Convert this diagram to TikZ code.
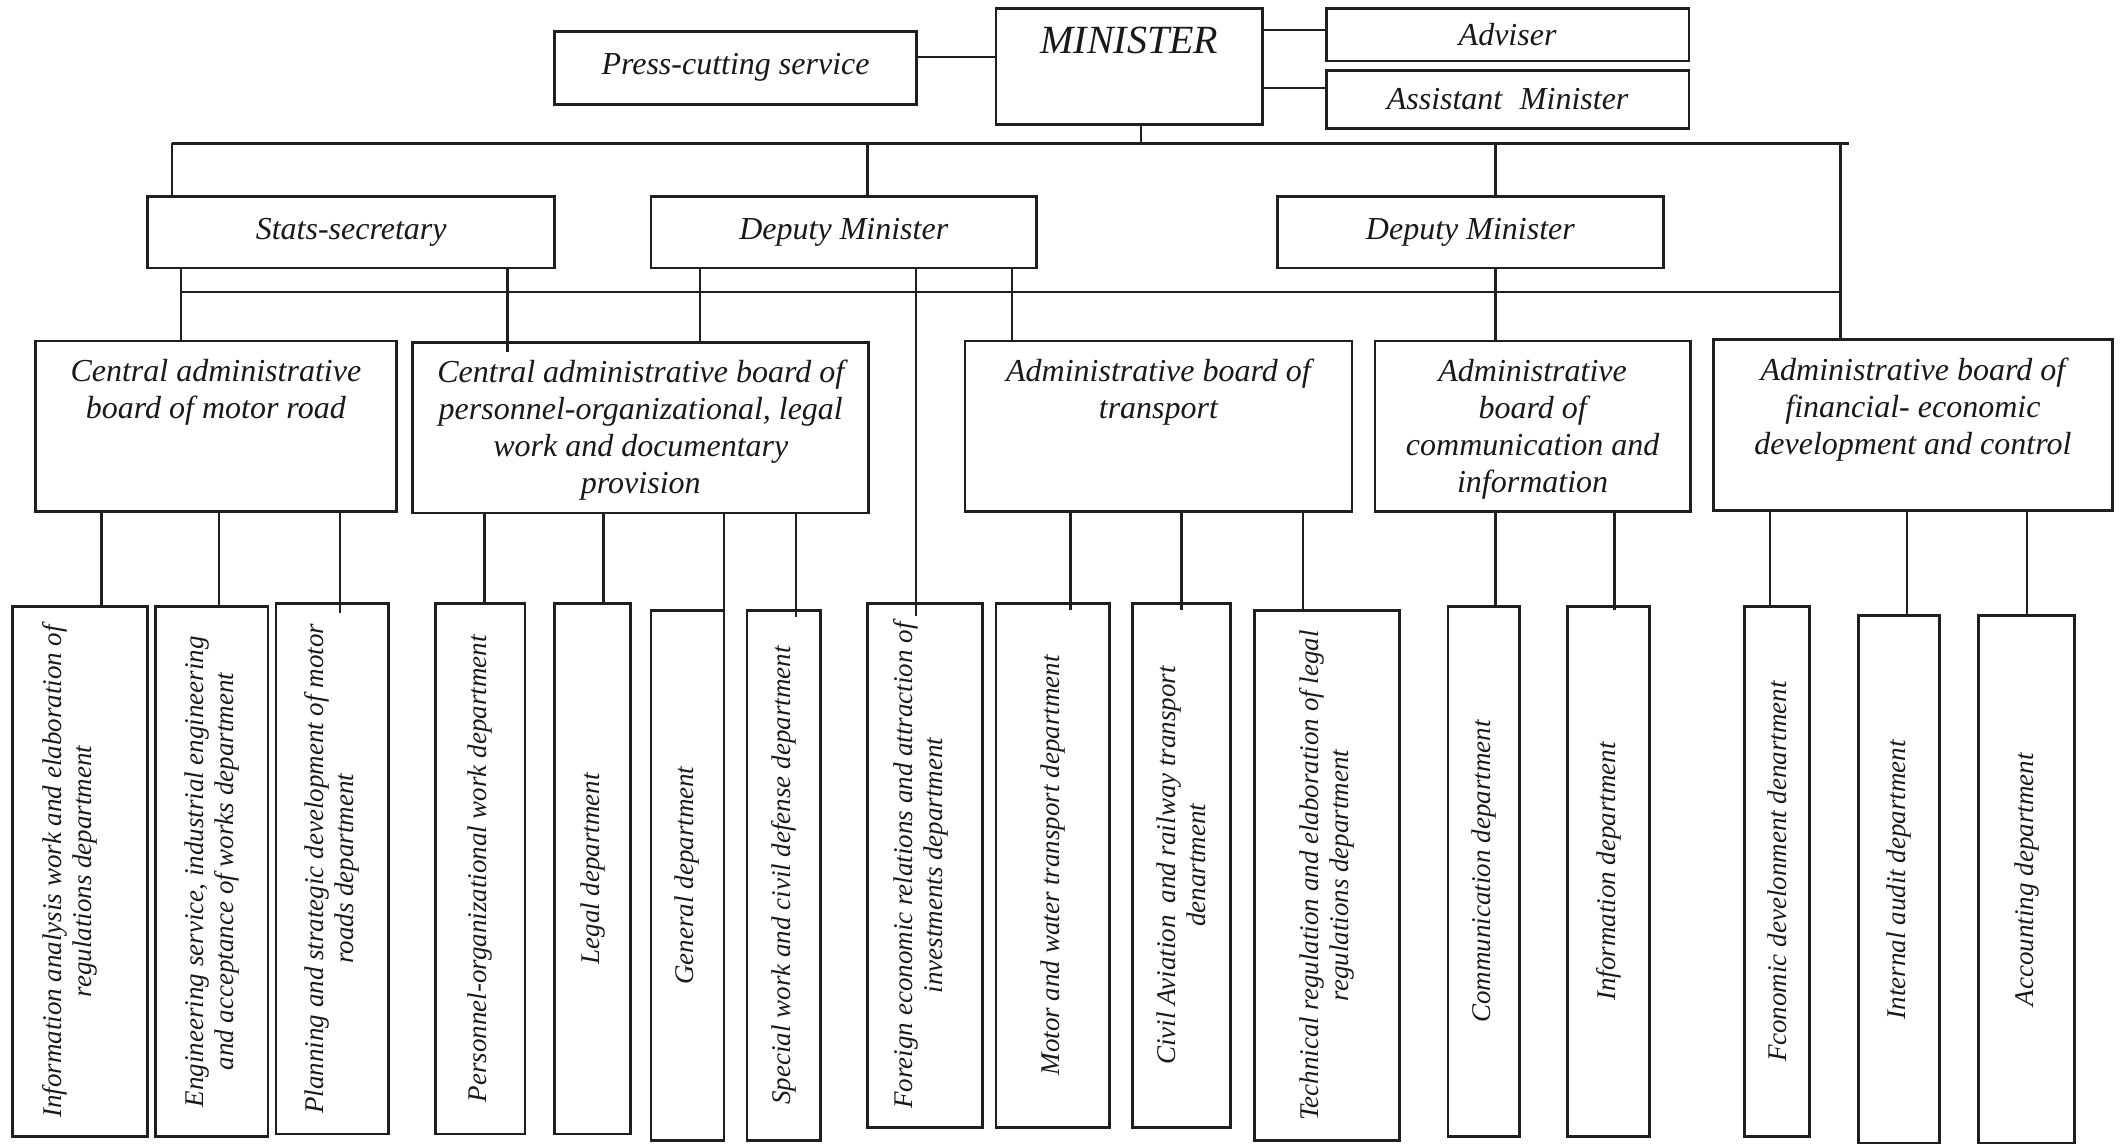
\documentclass[tikz,border=0pt]{standalone}
\usepackage{fontspec}
\setmainfont{Liberation Serif}
\begin{document}
\begin{tikzpicture}[x=1.3533pt, y=-1.3533pt,
  ink/.style={draw=black!88, line width=2.8pt},
  wire/.style={draw=black!88, line width=2.3pt},
  box/.style={ink, rectangle, inner sep=0pt, fill=white},
  geom/.style args={#1/#2/#3/#4}{box,
    minimum width={(#3-#1)*1.3533pt}, minimum height={(#4-#2)*1.3533pt},
    at={({(#1+#3)/2},{(#2+#4)/2})}},
  htext/.style={font=\fontsize{32}{37}\selectfont\rmfamily\itshape, align=center, text=black!90, inner sep=0pt},
  mtext/.style={font=\fontsize{40}{44}\selectfont\rmfamily\itshape, text=black!90, inner sep=0pt},
  vtext/.style={font=\fontsize{27}{30}\selectfont\rmfamily\itshape, align=center, rotate=90, text=black!90, inner sep=0pt},
]
% canvas
\fill[white] (0,0) rectangle (1568,845);
\useasboundingbox (0,0) rectangle (1568,845);

% helpers: a box whose text is centred, a board whose text hangs from the top,
% and a department whose text runs upwards
\newcommand\cbox[3]{\node[geom=#2, htext] (#1) {#3};}
\newcommand\board[3]{\node[geom=#2] (#1) {};
  \node[htext, anchor=north] (#1-t) at ([yshift=-19pt]#1.north) {#3};}
\newcommand\dept[4][0pt]{\node[geom=#3] (#2) {};
  \node[vtext] (#2-t) at ([xshift=#1]#2.center) {#4};}

% ---- top level ----
\cbox{press}{410/23/677/77}{Press-cutting service}
\node[geom=736/6/933/92] (min) {};
\node[mtext, anchor=north] (min-t) at ([yshift=-20pt]min.north) {MINISTER};
\cbox{adv}{980/6/1248/45}{Adviser}
\cbox{asst}{980/52/1248/95}{Assistant\hspace{0.55em}Minister}

% ---- deputies ----
\cbox{stats}{109/145/410/198}{Stats-secretary}
\cbox{dep1}{481/145/766/198}{Deputy Minister}
\cbox{dep2}{944/145/1229/198}{Deputy Minister}

% ---- boards ----
\board{road}{26/252/293/378}{Central administrative\\board of motor road}
\board{pers}{305/253/642/379}{Central administrative board of\\personnel-organizational, legal\\work and documentary\\provision}
\board{trans}{713/252/999/378}{Administrative board of\\transport}
\board{comm}{1016/252/1249/378}{Administrative\\board of\\communication and\\information}
\board{fin}{1266/251/1561/377}{Administrative board of\\financial- economic\\development and control}

% ---- departments ----
\dept[-10pt]{d1}{9/448/109/840}{Information analysis work and elaboration of\\regulations department}
\dept{d2}{115/448/198/840}{Engineering service, industrial engineering\\and acceptance of works department}
\dept{d3}{204/446/287/838}{Planning and strategic development of motor\\roads department}
\dept{d4}{322/446/388/838}{Personnel-organizational work department}
\dept{d5}{410/446/466/838}{Legal department}
\dept{d6}{481/451/535/843}{General department}
\dept{d7}{552/451/606/843}{Special work and civil defense department}
\dept[-4pt]{d8}{641/446/726/833}{Foreign economic relations and attraction of\\investments department}
\dept{d9}{736/446/820/833}{Motor and water transport department}
\dept{d10}{837/446/909/833}{Civil Aviation\hspace{0.45em}and railway transport\\denartment}
\dept{d11}{927/451/1034/843}{Technical regulation and elaboration of legal\\regulations department}
\dept{d12}{1070/448/1123/840}{Communication department}
\dept{d13}{1158/448/1219/840}{Information department}
\dept{d14}{1289/448/1337/840}{Fconomic develonment denartment}
\dept{d15}{1373/455/1433/845}{Internal audit department}
\dept{d16}{1462/455/1533/845}{Accounting department}

% ---- buses ----
\coordinate (busA-l) at (127,106);
\coordinate (busA-r) at (1366,106);
\coordinate (busB-l) at (134,216);
\coordinate (busB-r) at (1360,216);

% minister and its staff
\draw[wire] (press.east |- 0,42) -- (min.west |- 0,42);
\draw[wire] (min.east |- 0,22) -- (adv.west |- 0,22);
\draw[wire] (min.east |- 0,65) -- (asst.west |- 0,65);
\draw[wire] (min.south -| 843,0) -- (busA-l -| 843,0);

% upper bus to deputies
\draw[wire] (busA-l) -- (busA-r);
\draw[wire] (busA-l) -- (stats.north -| busA-l);
\draw[wire] (busA-l -| 641,0) -- (dep1.north -| 641,0);
\draw[wire] (busA-l -| 1105,0) -- (dep2.north -| 1105,0);
\draw[wire] (busA-r -| 1360,0) -- (fin.north -| 1360,0);

% lower bus and deputies to boards
\draw[wire] (busB-l) -- (busB-r);
\draw[wire] (stats.south -| 134,0) -- (road.north -| 134,0);
\draw[wire] (stats.south -| 375,0) -- (pers.north -| 375,0) -- ++(0,8);
\draw[wire] (dep1.south -| 517,0) -- (pers.north -| 517,0);
\draw[wire] (dep1.south -| 677,0) -- (d8.north -| 677,0) -- ++(0,10);
\draw[wire] (dep1.south -| 748,0) -- (trans.north -| 748,0);
\draw[wire] (dep2.south -| 1105,0) -- (comm.north -| 1105,0);

% boards to departments
\draw[wire] (road.south -| 75,0) -- (d1.north -| 75,0);
\draw[wire] (road.south -| 162,0) -- (d2.north -| 162,0);
\draw[wire] (road.south -| 251,0) -- (d3.north -| 251,0) -- ++(0,8);
\draw[wire] (pers.south -| 358,0) -- (d4.north -| 358,0);
\draw[wire] (pers.south -| 446,0) -- (d5.north -| 446,0);
\draw[wire] (pers.south -| 535,0) -- (d6.north -| 535,0);
\draw[wire] (pers.south -| 588,0) -- (d7.north -| 588,0) -- ++(0,6);
\draw[wire] (trans.south -| 791,0) -- (d9.north -| 791,0) -- ++(0,6);
\draw[wire] (trans.south -| 873,0) -- (d10.north -| 873,0) -- ++(0,6);
\draw[wire] (trans.south -| 963,0) -- (d11.north -| 963,0);
\draw[wire] (comm.south -| 1105,0) -- (d12.north -| 1105,0);
\draw[wire] (comm.south -| 1193,0) -- (d13.north -| 1193,0) -- ++(0,4);
\draw[wire] (fin.south -| 1308,0) -- (d14.north -| 1308,0);
\draw[wire] (fin.south -| 1409,0) -- (d15.north -| 1409,0);
\draw[wire] (fin.south -| 1498,0) -- (d16.north -| 1498,0);
\end{tikzpicture}
\end{document}
